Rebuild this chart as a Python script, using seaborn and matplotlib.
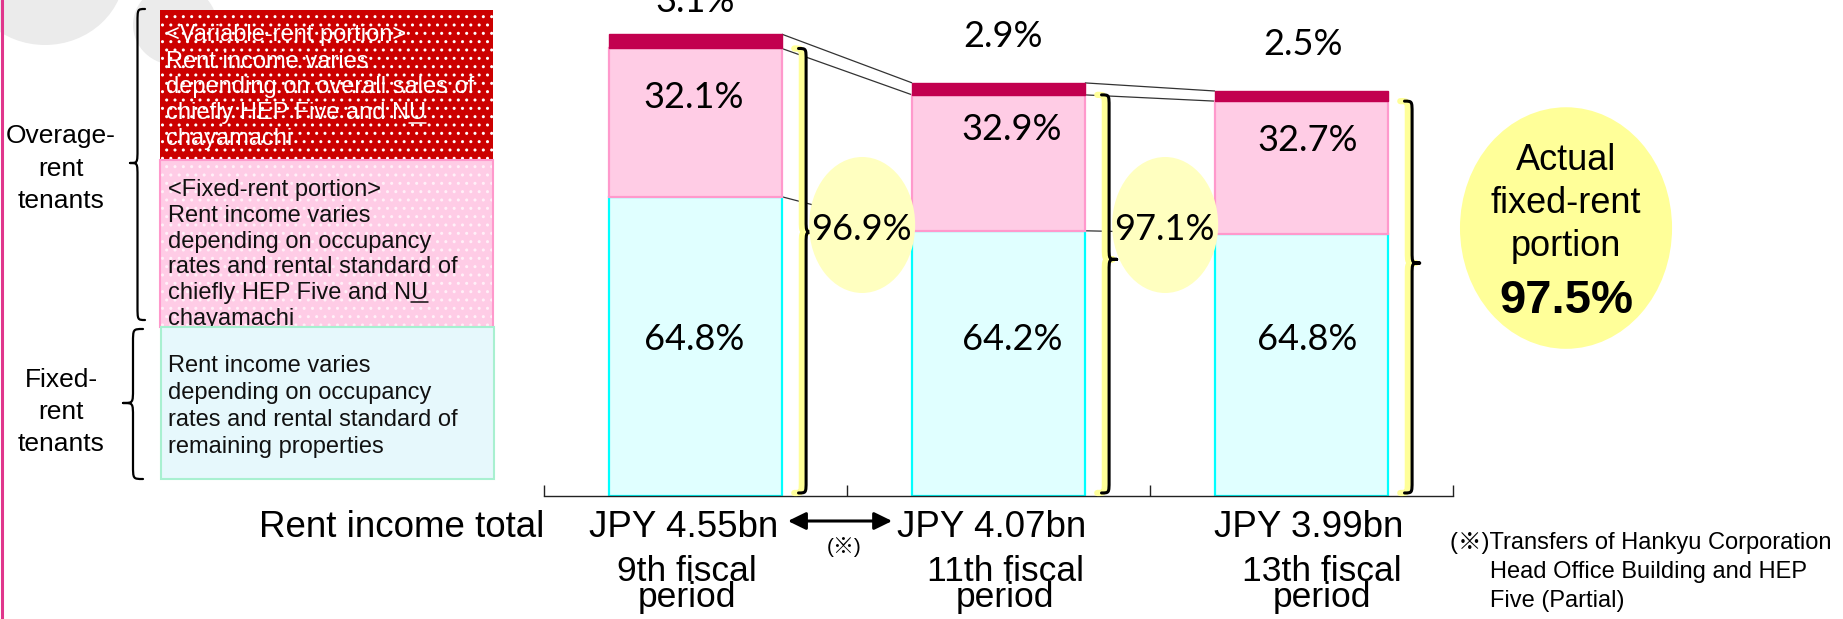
import numpy as np
import pandas as pd
import matplotlib
matplotlib.use("Agg")
import matplotlib.pyplot as plt
import seaborn as sns
from matplotlib.patches import Rectangle, Ellipse, PathPatch
from matplotlib.path import Path

# ---------------- data ----------------
periods = ["9th fiscal\nperiod", "11th fiscal\nperiod", "13th fiscal\nperiod"]
total_labels = ["JPY 4.55bn", "JPY 4.07bn", "JPY 3.99bn"]
totals_bn = [4.55, 4.07, 3.99]
variable_pct = [3.1, 2.9, 2.5]          # variable-rent portion (overage-rent tenants)
fixed_portion_pct = [32.1, 32.9, 32.7]  # fixed-rent portion (overage-rent tenants)
fixed_tenant_pct = [64.8, 64.2, 64.8]   # fixed-rent tenants
fixed_total_pct = [96.9, 97.1, 97.5]    # actual fixed-rent portion

# ---------------- style ----------------
sns.set_theme(style="white")
plt.rcParams["font.family"] = ["Liberation Sans", "Noto Sans CJK JP", "DejaVu Sans"]
plt.rcParams["hatch.linewidth"] = 1.0

W, H = 1843, 619
fig = plt.figure(figsize=(W / 100, H / 100), dpi=100)
fig.patch.set_facecolor("white")

deco = fig.add_axes([0, 0, 1, 1], zorder=0)
deco.set_xlim(0, W)
deco.set_ylim(H, 0)
deco.axis("off")

ax = fig.add_axes([544 / W, 123 / H, 909 / W, 496 / H], zorder=1)
ax.set_facecolor("none")

C_DARK = "#C2004F"
C_PINK = "#FFCCE5"
C_PINK_E = "#FF99CC"
C_CYAN = "#E0FFFF"
C_CYAN_E = "#00FFFF"
PCT_FONT = dict(family=["Lato", "Liberation Sans"], fontweight="normal", fontsize=26,
                color="black")


def brace(axis, x_end, x_tip, y_top, y_bot, y_tip, r, **kw):
    xs = (x_end + x_tip) / 2
    s = 1 if y_bot > y_top else -1
    verts = [(x_end, y_top), (xs, y_top), (xs, y_top), (xs, y_top + s * r),
             (xs, y_tip - s * r),
             (xs, y_tip), (xs, y_tip), (x_tip, y_tip),
             (xs, y_tip), (xs, y_tip), (xs, y_tip + s * r),
             (xs, y_bot - s * r),
             (xs, y_bot), (xs, y_bot), (x_end, y_bot)]
    C4, L = Path.CURVE4, Path.LINETO
    codes = [Path.MOVETO, C4, C4, C4, L, C4, C4, C4, C4, C4, C4, L, C4, C4, C4]
    p = PathPatch(Path(verts, codes), fill=False, capstyle="round",
                  joinstyle="round", clip_on=False, **kw)
    axis.add_patch(p)


# ---------------- stacked bars ----------------
tot = np.array(totals_bn)
cyan_h = tot * np.array(fixed_tenant_pct) / 100
pink_h = tot * np.array(fixed_portion_pct) / 100
dark_h = tot * np.array(variable_pct) / 100
fixed_top = cyan_h + pink_h

df = pd.DataFrame({"period": periods, "fixed_tenants": cyan_h,
                   "fixed_portion": pink_h, "variable": dark_h})
BW = 0.57
common = dict(data=df, x="period", order=periods, width=BW, saturation=1,
              errorbar=None, ax=ax)
sns.barplot(y="fixed_tenants", color=C_CYAN, edgecolor=C_CYAN_E, linewidth=1.6, **common)
sns.barplot(y="fixed_portion", bottom=cyan_h, color=C_PINK, edgecolor=C_PINK_E,
            linewidth=1.6, **common)
sns.barplot(y="variable", bottom=fixed_top, color=C_DARK, edgecolor=C_DARK,
            linewidth=1.0, **common)

ax.set_xlim(-0.5, 2.5)
ax.set_ylim(0, 496 / 101.5)
sns.despine(ax=ax, left=True, top=True, right=True)
ax.spines["bottom"].set_color("#222222")
ax.spines["bottom"].set_linewidth(1.0)
ax.set_yticks([])
ax.set_xlabel("")
ax.set_ylabel("")
ax.set_xticks(range(3))
ax.set_xticklabels([""] * 3)
ax.set_xticks([-0.5, 0.5, 1.5, 2.5], minor=True)
ax.tick_params(axis="x", which="major", length=0, bottom=False)
ax.tick_params(axis="x", which="minor", direction="in", length=8, width=1,
               color="#222222", bottom=True)

# connector lines between bars
for i in range(2):
    x0, x1 = i + BW / 2, i + 1 - BW / 2
    for ys in (tot, fixed_top, cyan_h):
        ax.plot([x0, x1], [ys[i], ys[i + 1]], color="#333333", lw=0.9, zorder=0.8,
                solid_capstyle="butt")

# percentage labels
top_dy = [0.22, 0.35, 0.35]
pink_dy = [0.59, 0.44, 0.49]
lab_dx = [-0.005, 0.045, 0.02]
for i in range(3):
    ax.text(i + lab_dx[i] * 0.3, tot[i] + top_dy[i], f"{variable_pct[i]:.1f}%",
            ha="center", va="baseline", zorder=6, **PCT_FONT)
    ax.text(i + lab_dx[i], fixed_top[i] - pink_dy[i], f"{fixed_portion_pct[i]:.1f}%",
            ha="center", va="baseline", zorder=6, **PCT_FONT)
    ax.text(i + lab_dx[i], 1.44, f"{fixed_tenant_pct[i]:.1f}%",
            ha="center", va="baseline", zorder=6, **PCT_FONT)

# braces with yellow shadow
for i in range(3):
    xe = i + BW / 2 + 0.055
    y_tip = 0.59 * fixed_top[i]
    brace(ax, xe - 0.014, xe + 0.05 - 0.014, fixed_top[i], 0.03, y_tip, 0.12,
          edgecolor="#FFFF99", lw=4.5, zorder=3)
    brace(ax, xe, xe + 0.05, fixed_top[i], 0.03, y_tip, 0.12,
          edgecolor="black", lw=2.2, zorder=3.5)

# small ellipses with fixed-rent share
ELL_Y = 2.67
for i in range(2):
    ax.add_patch(Ellipse((i + 0.55, ELL_Y), 0.35, 1.34, facecolor="#FFFFC0",
                         edgecolor="none", zorder=4, clip_on=False))
    ax.text(i + 0.546, ELL_Y - 0.15, f"{fixed_total_pct[i]:.1f}%", ha="center",
            va="baseline", zorder=6, **PCT_FONT)

# big ellipse
ec = (2.873, 2.64)
ax.add_patch(Ellipse(ec, 0.70, 2.38, facecolor="#FFFF99", edgecolor="none",
                     zorder=4, clip_on=False))
for txt, dy in (("Actual", 0.57), ("fixed-rent", 0.15), ("portion", -0.28)):
    ax.text(ec[0], ec[1] + dy, txt, ha="center", va="baseline", fontsize=26,
            color="black", zorder=6)
ax.text(ec[0], ec[1] - 0.84, f"{fixed_total_pct[2]:.1f}%", ha="center",
        va="baseline", fontsize=34, fontweight="bold", color="black", zorder=6)

# category labels below axis
xt = ax.get_xaxis_transform()
jpy_dx = [-0.038, -0.023, 0.023]
per_dx = [-0.028, 0.023, 0.066]
for i in range(3):
    ax.text(i + jpy_dx[i], -41 / 496, total_labels[i], transform=xt, ha="center",
            va="baseline", fontsize=26.5, color="black")
    ax.text(i + per_dx[i], -111 / 496, periods[i], transform=xt, ha="center",
            va="baseline", fontsize=25.5, color="black", linespacing=0.74)
ax.text(-0.5, -41 / 496, "Rent income total", transform=xt, ha="right",
        va="baseline", fontsize=26.5, color="black")

ax.annotate("", xy=(0.649, -25 / 496), xytext=(0.305, -25 / 496), xycoords=xt,
            textcoords=xt, annotation_clip=False,
            arrowprops=dict(arrowstyle="<|-|>,head_length=0.45,head_width=0.22",
                            color="black", lw=2.2, shrinkA=0, shrinkB=0,
                            mutation_scale=24))
ax.text(0.49, -57 / 496, "(※)", transform=xt, ha="center", va="baseline",
        fontsize=15, color="black")

# ---------------- left-side legend / decorations (pixel coords) ----------------
deco.add_patch(Ellipse((45, -30), 160, 150, facecolor="#EBEBEB", edgecolor="none", zorder=0.5))
deco.add_patch(Ellipse((175, 25), 84, 80, facecolor="#EBEBEB", edgecolor="none", zorder=0.5))
deco.plot([1.5, 1.5], [0, H], color="#E0368C", lw=2.2, zorder=1)

deco.add_patch(Rectangle((160, 10), 333, 150, facecolor="#CC0000", edgecolor="white",
                         lw=0, hatch="..", zorder=1))
deco.add_patch(Rectangle((160, 160), 333, 167, facecolor="#FFCCE6", edgecolor="#FFF0F8",
                         lw=0, hatch="..", zorder=1))
deco.add_patch(Rectangle((160, 160), 333, 167, fill=False, edgecolor="#FF99CC",
                         lw=1.5, zorder=1.2))
deco.add_patch(Rectangle((161, 327), 333, 152, facecolor="#E6F8FC", edgecolor="#A8F0D0",
                         lw=1.5, zorder=4))

renderer = fig.canvas.get_renderer()


def tw(s, size):
    t = deco.text(0, 0, s, fontsize=size)
    w = t.get_window_extent(renderer=renderer).width
    t.remove()
    return w


def text_block(x, y0, gap, lines, color, z, underline_line=None):
    for k, line in enumerate(lines):
        y = y0 + k * gap
        deco.text(x, y, line, fontsize=17, color=color, va="baseline", ha="left", zorder=z)
        if k == underline_line:
            xe = x + tw(line, 17)
            xs = xe - tw("U", 17)
            deco.plot([xs, xe], [y + 3, y + 3], color=color, lw=1.1, zorder=z)


text_block(166, 41.5, 26, ["<Variable-rent portion>", "Rent income varies",
                           "depending on overall sales of", "chiefly HEP Five and NU",
                           "chayamachi"], "white", 3, underline_line=3)
text_block(168, 196, 25.8, ["<Fixed-rent portion>", "Rent income varies",
                            "depending on occupancy", "rates and rental standard of",
                            "chiefly HEP Five and NU", "chayamachi"], "#111111", 3,
           underline_line=4)
text_block(168, 372, 27, ["Rent income varies", "depending on occupancy",
                          "rates and rental standard of", "remaining properties"],
           "#111111", 5)

for k, line in enumerate(["Overage-", "rent", "tenants"]):
    deco.text(61, 143 + 32.5 * k, line, fontsize=19, ha="center", va="baseline", color="black")
for k, line in enumerate(["Fixed-", "rent", "tenants"]):
    deco.text(61, 387 + 32 * k, line, fontsize=19, ha="center", va="baseline", color="black")

brace(deco, 145, 130, 9, 320, 163, 14, edgecolor="black", lw=1.6, zorder=2)
brace(deco, 143, 123, 329, 479, 403, 14, edgecolor="black", lw=1.6, zorder=2)

# footnote
deco.text(1450, 549, "(※)Transfers of Hankyu Corporation", fontsize=17, va="baseline",
          color="black")
deco.text(1490, 578, "Head Office Building and HEP", fontsize=17, va="baseline", color="black")
deco.text(1490, 607, "Five (Partial)", fontsize=17, va="baseline", color="black")

fig.savefig("out.png", dpi=100, facecolor="white")
